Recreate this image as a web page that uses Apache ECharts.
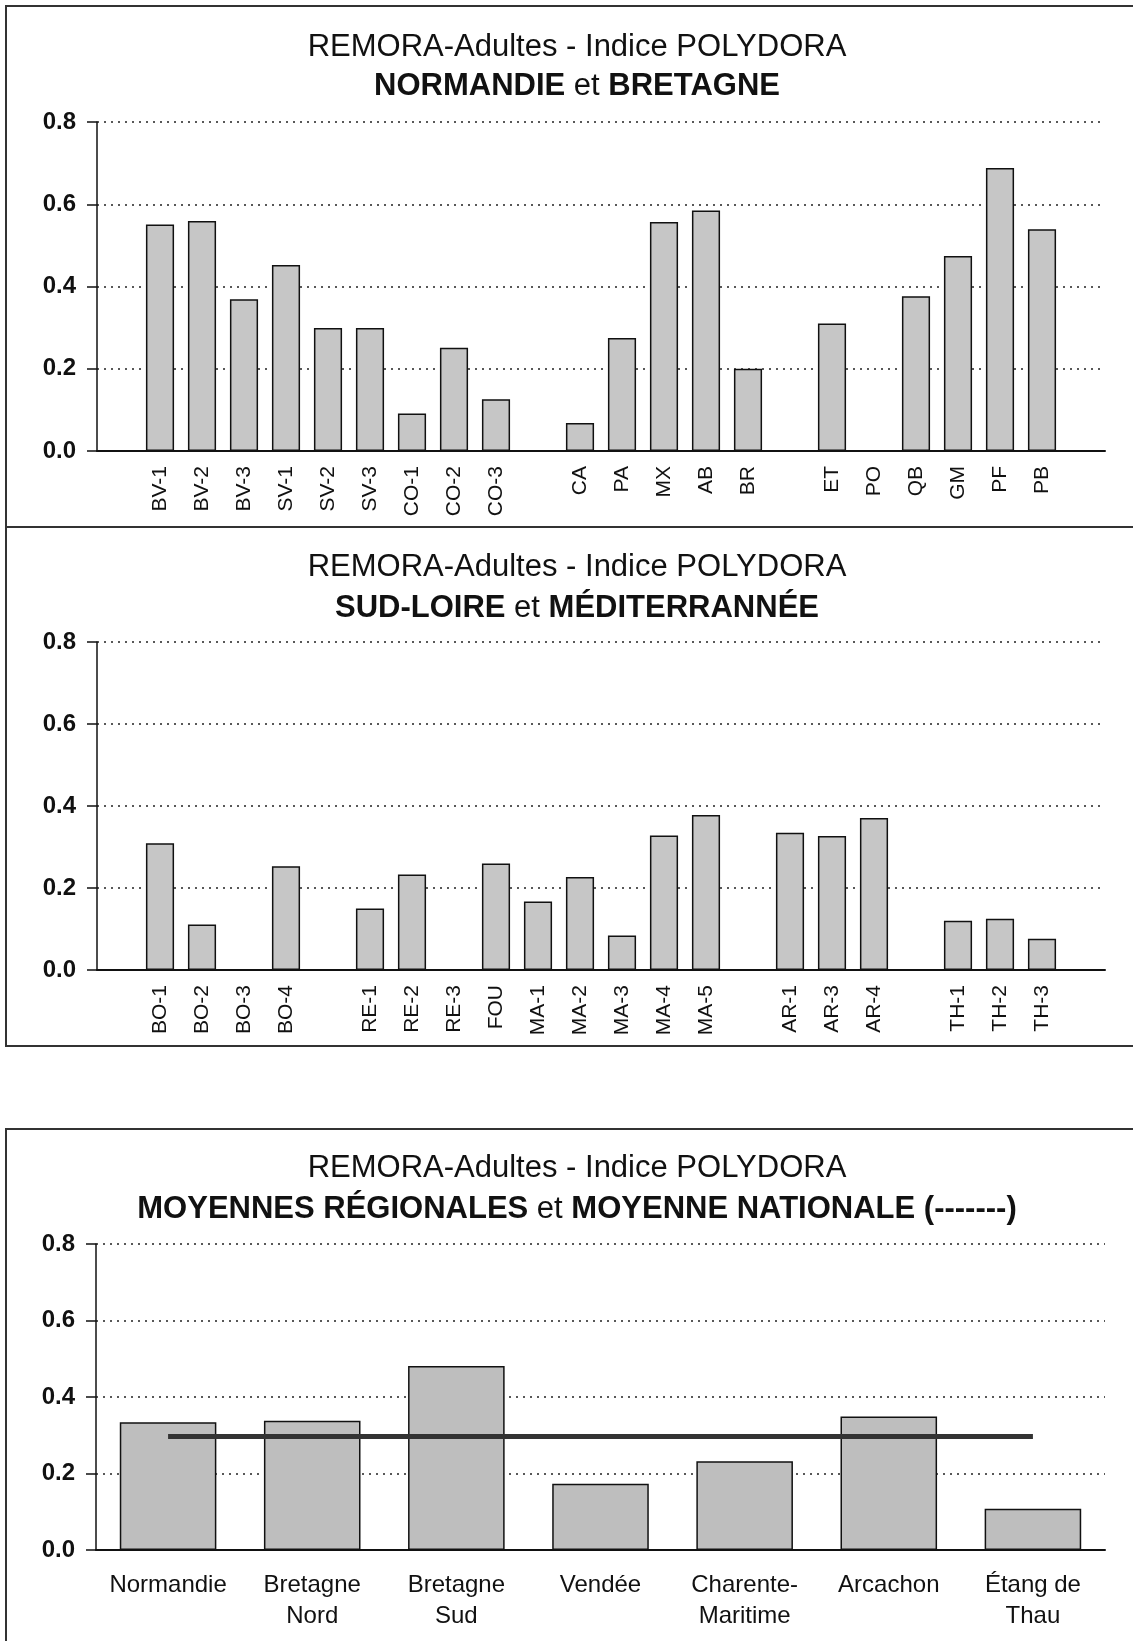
<!DOCTYPE html>
<html>
<head>
<meta charset="utf-8">
<script src="https://cdn.jsdelivr.net/npm/echarts@6/dist/echarts.min.js"></script>
<style>
  html, body { margin: 0; padding: 0; background: #fff; }
  #chart { width: 1133px; height: 1641px; }
</style>
</head>
<body>
<div id="chart"></div>
<script>
// stations, Normandie et Bretagne ('' = empty slot between groups)
const cats1 = ['', 'BV-1', 'BV-2', 'BV-3', 'SV-1', 'SV-2', 'SV-3', 'CO-1', 'CO-2', 'CO-3', '',
  'CA', 'PA', 'MX', 'AB', 'BR', '', 'ET', 'PO', 'QB', 'GM', 'PF', 'PB', ''];
const vals1 = [null, 0.551, 0.559, 0.369, 0.452, 0.299, 0.299, 0.091, 0.251, 0.126, null,
  0.068, 0.275, 0.557, 0.585, 0.200, null, 0.310, null, 0.376, 0.474, 0.688, 0.539, null];

// stations, Sud-Loire et Méditerranée
const cats2 = ['', 'BO-1', 'BO-2', 'BO-3', 'BO-4', '', 'RE-1', 'RE-2', 'RE-3', 'FOU',
  'MA-1', 'MA-2', 'MA-3', 'MA-4', 'MA-5', '', 'AR-1', 'AR-3', 'AR-4', '', 'TH-1', 'TH-2', 'TH-3', ''];
const vals2 = [null, 0.309, 0.111, null, 0.253, null, 0.150, 0.233, null, 0.260,
  0.167, 0.227, 0.084, 0.328, 0.378, null, 0.335, 0.327, 0.371, null, 0.120, 0.125, 0.076, null];

// moyennes régionales + moyenne nationale
const cats3 = ['Normandie', 'Bretagne\nNord', 'Bretagne\nSud', 'Vendée', 'Charente-\nMaritime', 'Arcachon', 'Étang de\nThau'];
const vals3 = [0.334, 0.338, 0.481, 0.173, 0.232, 0.349, 0.108];
const national = [0.297, 0.297, 0.297, 0.297, 0.297, 0.297, 0.297];

const yTicks = [0, 0.2, 0.4, 0.6, 0.8];

const FONT = '"Liberation Sans", Arial, sans-serif';
const INK = '#111';

function mkTitle(y, text, rich) {
  return {
    left: 572, top: y, textAlign: 'center', textVerticalAlign: 'middle',
    text: text,
    textStyle: {
      fontFamily: FONT, fontSize: 31, fontWeight: rich ? 'bold' : 'normal', color: INK,
      rich: rich ? {
        b: { fontFamily: FONT, fontSize: 31, fontWeight: 'bold', color: INK },
        r: { fontFamily: FONT, fontSize: 31, fontWeight: 'normal', color: INK }
      } : undefined
    }
  };
}

function yAx(idx) {
  return {
    type: 'value', gridIndex: idx, min: yTicks[0], max: yTicks[yTicks.length - 1], interval: 0.2,
    axisLine: { show: true, lineStyle: { color: INK, width: 1.5 } },
    axisTick: { show: true, length: 10, lineStyle: { color: INK, width: 1.5 } },
    axisLabel: {
      margin: 21, fontFamily: FONT, fontSize: 24, fontWeight: 'bold', color: INK,
      formatter: v => v.toFixed(1)
    },
    splitLine: { show: true, lineStyle: { color: '#222', width: 1.5, type: [2, 5] } }
  };
}

function xAx(idx, data, label) {
  return {
    type: 'category', gridIndex: idx, data: data,
    axisLine: { show: true, onZero: false, lineStyle: { color: INK, width: 2 } },
    axisTick: { show: false },
    axisLabel: Object.assign({ interval: 0, fontFamily: FONT, color: INK }, label),
    splitLine: { show: false }
  };
}

const barStyle = { color: '#c6c6c6', borderColor: '#111', borderWidth: 1.5 };

const chart = echarts.init(document.getElementById('chart'));
chart.setOption({
  animation: false,
  backgroundColor: '#fff',
  title: [
    mkTitle(42, 'REMORA-Adultes - Indice POLYDORA'),
    mkTitle(81, '{b|NORMANDIE} {r|et} {b|BRETAGNE}', true),
    mkTitle(562, 'REMORA-Adultes - Indice POLYDORA'),
    mkTitle(603, '{b|SUD-LOIRE} {r|et} {b|MÉDITERRANNÉE}', true),
    mkTitle(1163, 'REMORA-Adultes - Indice POLYDORA'),
    mkTitle(1204, '{b|MOYENNES RÉGIONALES} {r|et} {b|MOYENNE NATIONALE (-------)}', true)
  ],
  graphic: [
    { type: 'rect', shape: { x: 6, y: 6, width: 1140, height: 521 }, style: { fill: 'none', stroke: '#333', lineWidth: 2 }, z: -1 },
    { type: 'rect', shape: { x: 6, y: 527, width: 1140, height: 519 }, style: { fill: 'none', stroke: '#333', lineWidth: 2 }, z: -1 },
    { type: 'rect', shape: { x: 6, y: 1129, width: 1140, height: 530 }, style: { fill: 'none', stroke: '#333', lineWidth: 2 }, z: -1 }
  ],
  grid: [
    { left: 97, width: 1008, top: 122, height: 329 },
    { left: 97, width: 1008, top: 642, height: 328 },
    { left: 96, width: 1009, top: 1244, height: 306 }
  ],
  xAxis: [
    xAx(0, cats1, { rotate: 90, fontSize: 21, margin: 15 }),
    xAx(1, cats2, { rotate: 90, fontSize: 21, margin: 15 }),
    xAx(2, cats3, { fontSize: 24, lineHeight: 31, margin: 20 })
  ],
  yAxis: [yAx(0), yAx(1), yAx(2)],
  series: [
    { type: 'bar', xAxisIndex: 0, yAxisIndex: 0, data: vals1, barCategoryGap: '33%', itemStyle: barStyle },
    { type: 'bar', xAxisIndex: 1, yAxisIndex: 1, data: vals2, barCategoryGap: '33%', itemStyle: barStyle },
    { type: 'bar', xAxisIndex: 2, yAxisIndex: 2, data: vals3, barCategoryGap: '33%',
      itemStyle: { color: '#bebebe', borderColor: '#111', borderWidth: 1.5 } },
    { type: 'line', xAxisIndex: 2, yAxisIndex: 2, data: national, symbol: 'none', z: 5,
      lineStyle: { color: '#333', width: 5 } }
  ]
});
</script>
</body>
</html>
